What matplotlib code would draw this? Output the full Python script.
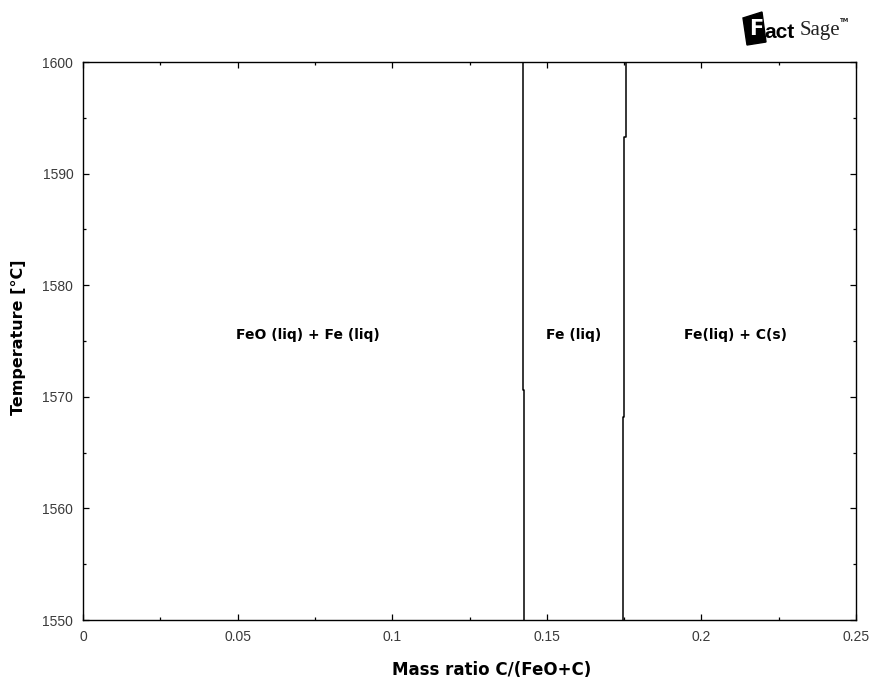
import matplotlib
matplotlib.use("Agg")
import matplotlib.pyplot as plt
from matplotlib.patches import Polygon
from matplotlib.ticker import MultipleLocator, FixedLocator

# phase boundaries: mass ratio C/(FeO+C) vs temperature
b1_ratio = [0.1424, 0.1424, 0.1427, 0.1427]
b1_temp = [1600, 1570.6, 1570.6, 1550]
b2_ratio = [0.1755, 0.1755, 0.1750, 0.1750, 0.1747, 0.1747]
b2_temp = [1600, 1593.3, 1593.3, 1568.2, 1568.2, 1550]

region_names = ["FeO (liq) + Fe (liq)", "Fe (liq)", "Fe(liq) + C(s)"]
region_ratio = [0.0727, 0.1587, 0.211]
region_temp = [1575.5, 1575.5, 1575.5]

x_ticks = [0, 0.05, 0.1, 0.15, 0.2, 0.25]
x_ticklabels = ["0", "0.05", "0.1", "0.15", "0.2", "0.25"]
y_ticks = [1550, 1560, 1570, 1580, 1590, 1600]

W, H = 872, 682
fig = plt.figure(figsize=(W / 100, H / 100), dpi=100)
ax = fig.add_axes([83 / W, 1 - 620 / H, (856 - 83) / W, (620 - 62) / H])

ax.plot(b1_ratio, b1_temp, color="black", lw=1.1)
ax.plot(b2_ratio, b2_temp, color="black", lw=1.1)

for name, xr, t in zip(region_names, region_ratio, region_temp):
    ax.text(xr, t, name, ha="center", va="center", fontsize=10,
            fontweight="bold", family="DejaVu Sans")

ax.set_xlim(0, 0.25)
ax.set_ylim(1550, 1600)
ax.xaxis.set_major_locator(FixedLocator(x_ticks))
ax.set_xticklabels(x_ticklabels)
ax.xaxis.set_minor_locator(MultipleLocator(0.025))
ax.yaxis.set_major_locator(FixedLocator(y_ticks))
ax.yaxis.set_minor_locator(MultipleLocator(5))
ax.tick_params(which="both", direction="in", top=True, right=True,
               labelsize=10, labelcolor="#3a3a3a", pad=7)
ax.tick_params(which="major", length=4.5, width=0.9)
ax.tick_params(which="minor", length=2, width=0.9)
for lab in ax.get_xticklabels() + ax.get_yticklabels():
    lab.set_family("Liberation Sans")
for s in ax.spines.values():
    s.set_linewidth(1.0)

fig.text(492 / W, 1 - 670 / H, "Mass ratio C/(FeO+C)", ha="center", va="center",
         fontsize=12, fontweight="bold")
fig.text(18 / W, 1 - 337 / H, "Temperature [\u00b0C]", ha="center", va="center",
         rotation=90, fontsize=11.5, fontweight="bold")

# FactSage logo
pts = [(743, 18), (762, 12), (766, 42), (747, 45)]
fig.patches.append(Polygon([(x / W, 1 - y / H) for x, y in pts], closed=True,
                           transform=fig.transFigure, facecolor="black",
                           edgecolor="black", figure=fig))
fig.text(756 / W, 1 - 29 / H, "F", ha="center", va="center", color="white",
         fontsize=15, fontweight="bold")
fig.text(764 / W, 1 - 32 / H, "act", ha="left", va="center", color="black",
         fontsize=15, fontweight="bold", family="Liberation Sans")
fig.text(800 / W, 1 - 30 / H, "Sage", ha="left", va="center", color="#222222",
         fontsize=15, family="Liberation Serif")
fig.text(840 / W, 1 - 20 / H, "TM", ha="left", va="center", color="#222222",
         fontsize=4, fontweight="bold")

fig.savefig("out.png", dpi=100, facecolor="white")
